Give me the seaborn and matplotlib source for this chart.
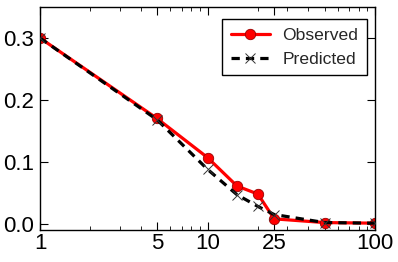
import matplotlib
matplotlib.use("Agg")
import matplotlib.pyplot as plt
import seaborn as sns
import pandas as pd
from matplotlib.ticker import FixedLocator, FixedFormatter, NullFormatter, LogLocator

x_vals = [1, 5, 10, 15, 20, 25, 50, 100]
observed = [0.300, 0.170, 0.107, 0.061, 0.048, 0.008, 0.002, 0.001]
predicted = [0.300, 0.168, 0.088, 0.047, 0.028, 0.015, 0.002, 0.001]
x_ticks = [1, 5, 10, 25, 100]
x_tick_labels = ["1", "5", "10", "25", "100"]
y_ticks = [0.0, 0.1, 0.2, 0.3]
y_tick_labels = ["0.0", "0.1", "0.2", "0.3"]

sns.set_style("ticks")
plt.rcParams["font.family"] = ["Liberation Sans", "DejaVu Sans"]

df = pd.DataFrame({"x": x_vals * 2,
                   "y": observed + predicted,
                   "series": ["Observed"] * len(x_vals) + ["Predicted"] * len(x_vals)})

fig = plt.figure(figsize=(3.98, 2.62), dpi=100)
ax = fig.add_axes([40/398, 32/262, 335/398, 223/262])

sns.lineplot(data=df[df.series == "Observed"], x="x", y="y", ax=ax, color="red",
             linewidth=2.3, marker="o", markersize=7.5, markeredgecolor="#990000",
             markeredgewidth=0.6, label="Observed", zorder=2)
sns.lineplot(data=df[df.series == "Predicted"], x="x", y="y", ax=ax, color="black",
             linewidth=2.3, linestyle=(0, (2.6, 1.9)), marker="x", markersize=7,
             markeredgecolor="#333333", markeredgewidth=0.7, label="Predicted", zorder=3)

ax.set_xscale("log")
ax.set_xlim(1, 100)
ax.set_ylim(-0.01, 0.35)
ax.xaxis.set_major_locator(FixedLocator(x_ticks))
ax.xaxis.set_major_formatter(FixedFormatter(x_tick_labels))
ax.xaxis.set_minor_locator(LogLocator(base=10, subs=range(1, 10)))
ax.xaxis.set_minor_formatter(NullFormatter())
ax.yaxis.set_major_locator(FixedLocator(y_ticks))
ax.yaxis.set_major_formatter(FixedFormatter(y_tick_labels))
ax.set_xlabel("")
ax.set_ylabel("")

for s in ax.spines.values():
    s.set_visible(True)
    s.set_color("black")
    s.set_linewidth(1.0)
ax.tick_params(which="both", direction="in", top=True, right=True, colors="black")
ax.tick_params(which="major", length=6, width=0.8, labelsize=16)
ax.tick_params(axis="x", which="major", pad=2)
ax.tick_params(axis="y", which="major", pad=4)
ax.tick_params(which="minor", length=3, width=0.6)

leg = ax.legend(loc="upper right", bbox_to_anchor=(0.976, 0.9475), fontsize=12.6,
                frameon=True, fancybox=False, borderaxespad=0.0,
                handlelength=2.2, handletextpad=0.73,
                borderpad=0.5, labelspacing=0.5)
leg.get_frame().set_edgecolor("black")
leg.get_frame().set_linewidth(1.0)
leg.get_frame().set_alpha(1)

fig.savefig("out.png", dpi=100)
